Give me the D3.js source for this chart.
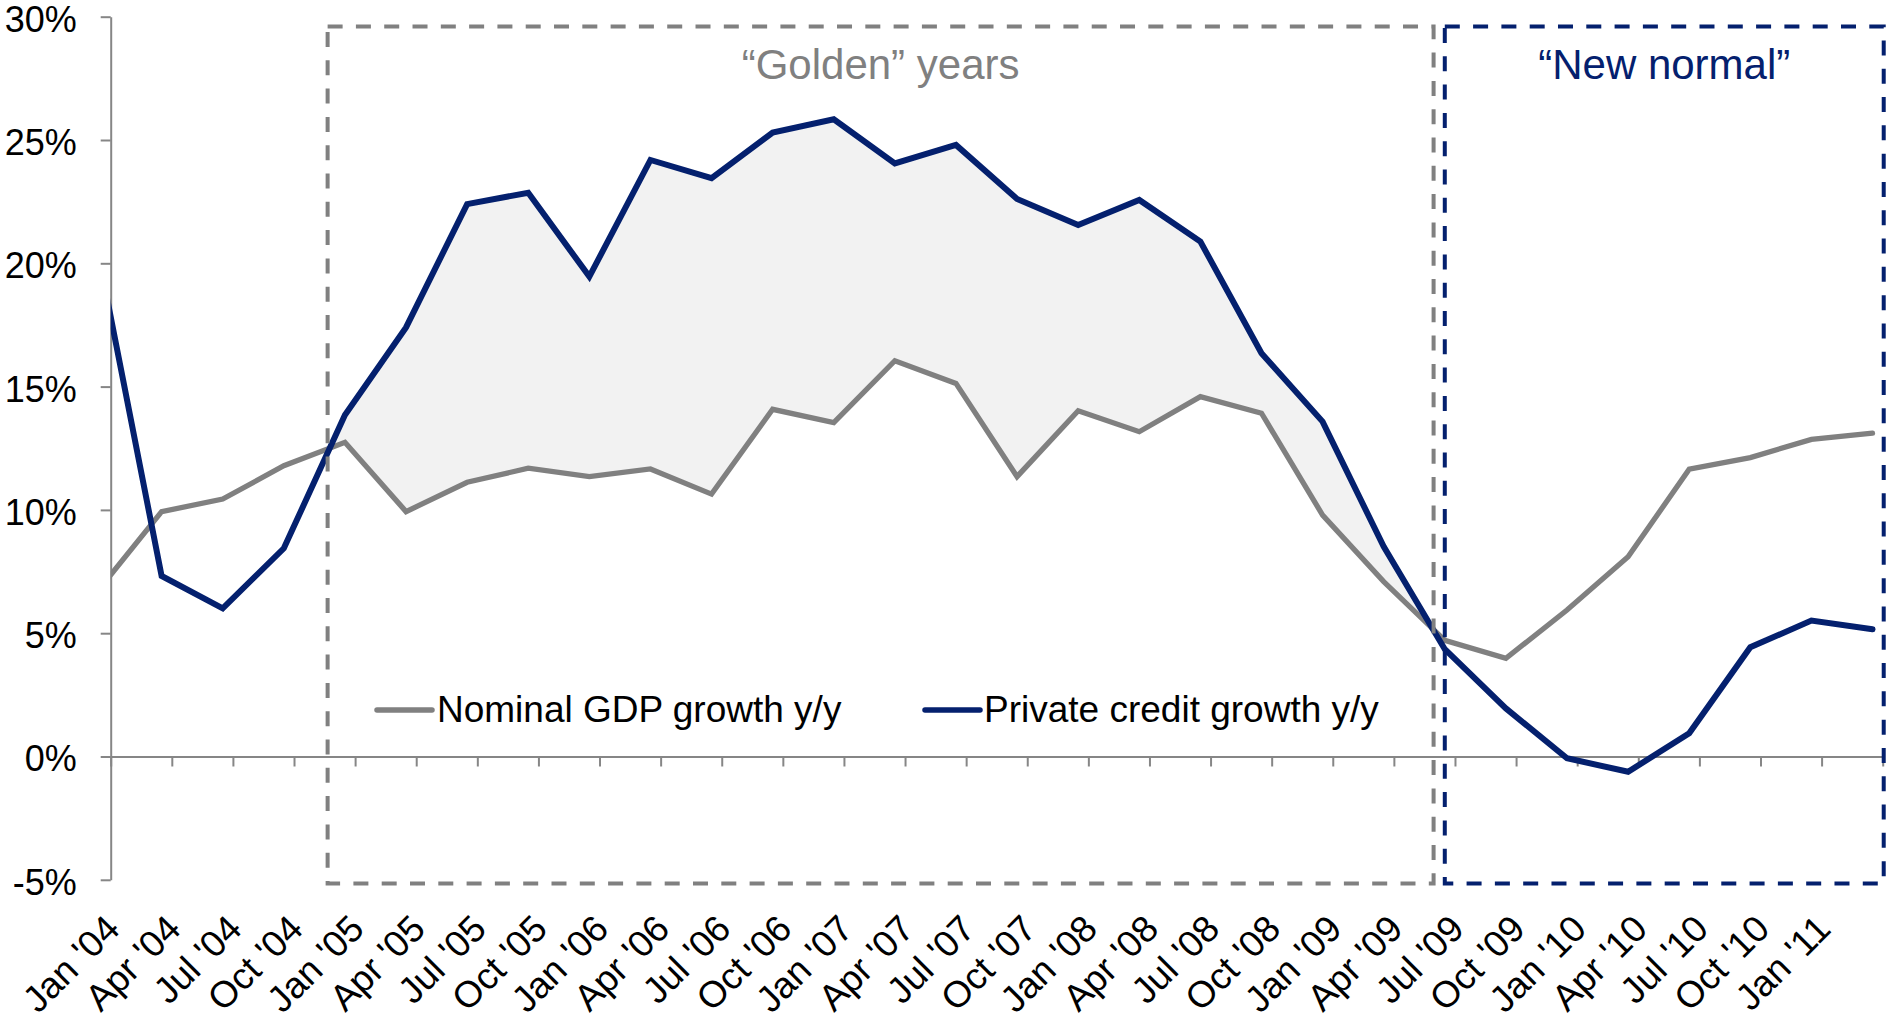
<!DOCTYPE html>
<html>
<head>
<meta charset="utf-8">
<script src="https://cdn.jsdelivr.net/npm/d3@7"></script>
<style>
  html, body { margin: 0; padding: 0; background: #fff; }
  svg { display: block; }
  text { font-family: "Liberation Sans", Arial, Helvetica, sans-serif; }
</style>
</head>
<body>
<svg id="chart" width="1890" height="1020"></svg>
<script>
// Quarterly observations (month of observation)
const pointMonths = [
  "2003-12", "2004-03", "2004-06", "2004-09", "2004-12",
  "2005-03", "2005-06", "2005-09", "2005-12",
  "2006-03", "2006-06", "2006-09", "2006-12",
  "2007-03", "2007-06", "2007-09", "2007-12",
  "2008-03", "2008-06", "2008-09", "2008-12",
  "2009-03", "2009-06", "2009-09", "2009-12",
  "2010-03", "2010-06", "2010-09", "2010-12",
  "2011-03"
];

// Nominal GDP growth, % y/y
const gdpGrowth = [
  6.85, 9.93, 10.44, 11.79, 12.74,
  9.93, 11.12, 11.69, 11.35,
  11.66, 10.64, 14.08, 13.54,
  16.05, 15.13, 11.35, 14.02,
  13.17, 14.59, 13.92, 9.79,
  7.09, 4.71, 3.98, 5.94,
  8.10, 11.65, 12.12, 12.86,
  13.11
];

// Private credit growth, % y/y
const creditGrowth = [
  19.93, 7.32, 6.01, 8.44, 13.85,
  17.40, 22.40, 22.86, 19.46,
  24.19, 23.45, 25.30, 25.84,
  24.05, 24.80, 22.61, 21.55,
  22.57, 20.88, 16.35, 13.58,
  8.51, 4.35, 1.95, -0.07,
  -0.62, 0.94, 4.43, 5.51,
  5.16
];

// Category axis labels (one per quarter tick)
const xTickLabels = [
  "Jan '04", "Apr '04", "Jul '04", "Oct '04",
  "Jan '05", "Apr '05", "Jul '05", "Oct '05",
  "Jan '06", "Apr '06", "Jul '06", "Oct '06",
  "Jan '07", "Apr '07", "Jul '07", "Oct '07",
  "Jan '08", "Apr '08", "Jul '08", "Oct '08",
  "Jan '09", "Apr '09", "Jul '09", "Oct '09",
  "Jan '10", "Apr '10", "Jul '10", "Oct '10",
  "Jan '11"
];
// Quarter boundaries in months since Jan 2004 (last one, Apr '11, closes the axis)
const xTickMonths = [
  0, 3, 6, 9, 12, 15, 18, 21, 24, 27, 30, 33, 36, 39, 42,
  45, 48, 51, 54, 57, 60, 63, 66, 69, 72, 75, 78, 81, 84, 87
];
const yTicks = [-5, 0, 5, 10, 15, 20, 25, 30];

const seriesNames = ["Nominal GDP growth y/y", "Private credit growth y/y"];
const periodTitles = ["\u201cGolden\u201d years", "\u201cNew normal\u201d"];

const GRAY = "#808080";
const NAVY = "#04206e";
const FILL = "#f2f2f2";
const AXIS = "#868686";

const svg = d3.select("#chart");

// Scales: x in months since Jan 2004, y in percent
const x = d3.scaleLinear().domain([0, 87]).range([110.7, 1882.7]);
const y = d3.scaleLinear().domain([-5, 30]).range([879.8, 16.7]);

function monthIndex(s) {
  const [yy, mm] = s.split("-").map(Number);
  return (yy - 2004) * 12 + (mm - 1);
}

// each observation sits in the middle of its month
const pts = pointMonths.map((m, i) => ({
  t: monthIndex(m) + 0.5,
  g: gdpGrowth[i],
  c: creditGrowth[i]
}));

// Clip region = plot area
svg.append("defs").append("clipPath").attr("id", "plotClip")
  .append("rect")
  .attr("x", x(0)).attr("y", 0)
  .attr("width", x(87) - x(0)).attr("height", 1020);

// ---------- Axes ----------
const yAxis = d3.axisLeft(y)
  .tickValues(yTicks)
  .tickFormat(d => d + "%")
  .tickSize(10)
  .tickSizeOuter(0)
  .tickPadding(24);

const gy = svg.append("g")
  .attr("transform", `translate(${x(0)},0)`)
  .call(yAxis);
gy.select(".domain").attr("stroke", AXIS).attr("stroke-width", 2);
gy.selectAll(".tick line").attr("stroke", AXIS).attr("stroke-width", 2);
gy.selectAll(".tick text")
  .attr("fill", "#000")
  .attr("dy", "0.4em")
  .style("font-size", "36px")
  .style("font-family", "'Liberation Sans', Arial, sans-serif");

const xAxis = d3.axisBottom(x)
  .tickValues(xTickMonths)
  .tickFormat("")
  .tickSize(10)
  .tickSizeOuter(0);

const gx = svg.append("g")
  .attr("transform", `translate(0,${y(0)})`)
  .call(xAxis);
gx.select(".domain").attr("stroke", AXIS).attr("stroke-width", 2);
gx.selectAll(".tick line").attr("stroke", AXIS).attr("stroke-width", 2);

// rotated category labels
svg.append("g")
  .selectAll("text")
  .data(xTickLabels)
  .join("text")
  .attr("transform", (d, i) => `translate(${x(xTickMonths[i]) + 11},931) rotate(-45)`)
  .attr("text-anchor", "end")
  .attr("fill", "#000")
  .style("font-size", "37px")
  .text(d => d);

// ---------- Shaded gap between the two series ----------
function crossing(a, b) {
  const da = a.c - a.g, db = b.c - b.g;
  const f = da / (da - db);
  const t = a.t + f * (b.t - a.t);
  const v = a.g + f * (b.g - a.g);
  return { t, g: v, c: v };
}
let riseIdx = -1, fallIdx = -1;
for (let i = 1; i < pts.length; i++) {
  const prev = pts[i - 1].c - pts[i - 1].g, cur = pts[i].c - pts[i].g;
  if (riseIdx < 0 && prev < 0 && cur >= 0) riseIdx = i;
  else if (riseIdx >= 0 && prev > 0 && cur <= 0) { fallIdx = i; break; }
}
const gapData = [crossing(pts[riseIdx - 1], pts[riseIdx])]
  .concat(pts.slice(riseIdx, fallIdx))
  .concat([crossing(pts[fallIdx - 1], pts[fallIdx])]);

const gapArea = d3.area()
  .x(d => x(d.t))
  .y0(d => y(d.g))
  .y1(d => y(d.c));

const plot = svg.append("g").attr("clip-path", "url(#plotClip)");

plot.append("path")
  .datum(gapData)
  .attr("d", gapArea)
  .attr("fill", FILL);

// ---------- Lines ----------
const gdpLine = d3.line().x(d => x(d.t)).y(d => y(d.g));
const creditLine = d3.line().x(d => x(d.t)).y(d => y(d.c));

plot.append("path")
  .datum(pts)
  .attr("d", gdpLine)
  .attr("fill", "none")
  .attr("stroke", GRAY)
  .attr("stroke-width", 5.3)
  .attr("stroke-linejoin", "miter")
  .attr("stroke-linecap", "round");

plot.append("path")
  .datum(pts)
  .attr("d", creditLine)
  .attr("fill", "none")
  .attr("stroke", NAVY)
  .attr("stroke-width", 6)
  .attr("stroke-linejoin", "miter")
  .attr("stroke-linecap", "round");

// ---------- Period boxes ----------
const periods = [
  { span: [10.65, 64.95], color: GRAY, title: periodTitles[0] },
  { span: [65.5, 87.05], color: NAVY, title: periodTitles[1] }
];
const boxTop = 29.6, boxBottom = -5.15;

svg.append("g")
  .selectAll("rect")
  .data(periods)
  .join("rect")
  .attr("x", d => x(d.span[0]))
  .attr("y", y(boxTop))
  .attr("width", d => x(d.span[1]) - x(d.span[0]))
  .attr("height", y(boxBottom) - y(boxTop))
  .attr("fill", "none")
  .attr("stroke", d => d.color)
  .attr("stroke-width", 4)
  .attr("stroke-dasharray", "15 13.3");

svg.append("g")
  .selectAll("text")
  .data(periods)
  .join("text")
  .attr("x", d => (x(d.span[0]) + x(d.span[1])) / 2)
  .attr("y", 79)
  .attr("text-anchor", "middle")
  .attr("fill", d => d.color)
  .style("font-size", "42px")
  .text(d => d.title);

// ---------- Legend ----------
const legendItems = [
  { name: seriesNames[0], color: GRAY, x0: 377, x1: 432, tx: 437 },
  { name: seriesNames[1], color: NAVY, x0: 925, x1: 980, tx: 984 }
];
const lg = svg.append("g");
lg.selectAll("line")
  .data(legendItems)
  .join("line")
  .attr("x1", d => d.x0).attr("x2", d => d.x1)
  .attr("y1", 710).attr("y2", 710)
  .attr("stroke", d => d.color)
  .attr("stroke-width", 5.5)
  .attr("stroke-linecap", "round");
lg.selectAll("text")
  .data(legendItems)
  .join("text")
  .attr("x", d => d.tx)
  .attr("y", 721.5)
  .attr("fill", "#000")
  .style("font-size", "37px")
  .text(d => d.name);
</script>
</body>
</html>
